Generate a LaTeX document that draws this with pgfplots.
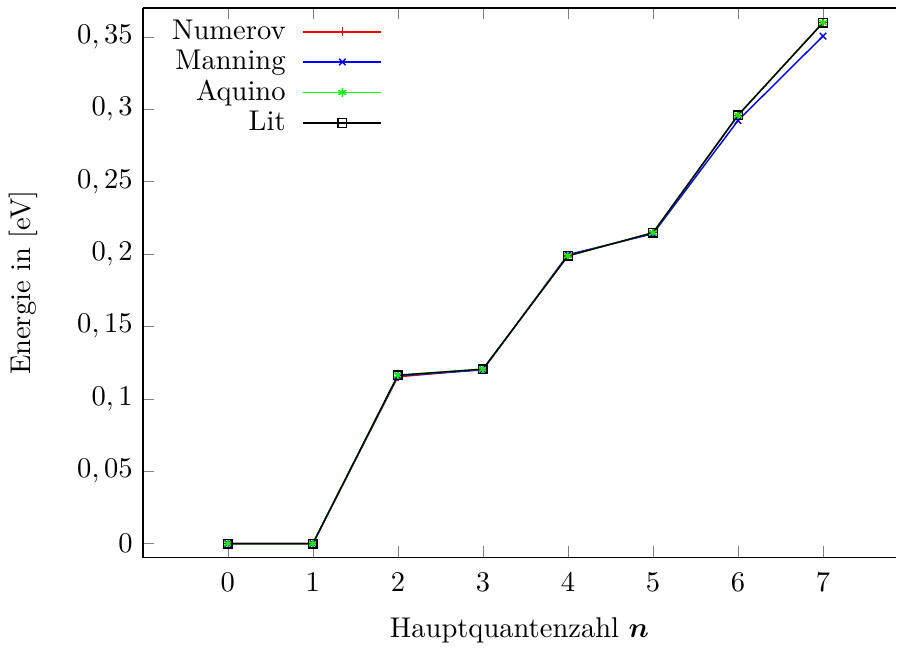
\documentclass[border=0pt]{standalone}
\usepackage{amsmath}
\usepackage{pgfplots}
\pgfplotsset{compat=1.18}
\pgfplotstableread{
n  num     man     aqu     lit
0  0.0000  0.0000  0.0000  0.0000
1  0.0000  0.0000  0.0000  0.0000
2  0.1152  0.1158  0.1163  0.1163
3  0.1203  0.1200  0.1205  0.1205
4  0.1988  0.1996  0.1988  0.1988
5  0.2147  0.2140  0.2147  0.2147
6  0.2959  0.2922  0.2959  0.2959
7  0.3599  0.3506  0.3599  0.3599
}\data
\begin{document}
\begin{tikzpicture}
\begin{axis}[
  scale only axis,
  width=264pt, height=192.6pt,
  xmin=-1, xmax=7.86,
  ymin=-0.0097, ymax=0.37,
  xtick={0,1,2,3,4,5,6,7},
  ytick={0,0.05,0.1,0.15,0.2,0.25,0.3,0.35},
  yticklabels={{$0$},{$0,05$},{$0,1$},{$0,15$},{$0,2$},{$0,25$},{$0,3$},{$0,35$}},
  xticklabel style={yshift=-2pt},
  axis x line*=box,
  axis y line*=left,
  xtick pos=both,
  tick align=inside,
  major tick length=4pt,
  axis line style={line width=0.6pt},
  clip=false,
  xlabel={Hauptquantenzahl $\boldsymbol{n}$},
  ylabel={Energie in [eV]},
  every axis x label/.style={at={(axis description cs:0.5,-0.133)},anchor=center},
  every axis y label/.style={at={(axis description cs:-0.158,0.5)},rotate=90,anchor=center},
  legend plot pos=right,
  legend cell align=right,
  legend style={draw=none, fill=none, at={(axis description cs:0.0193,1.0)}, anchor=north west,
    row sep=-1.8pt, font=\normalsize},
  legend image code/.code={\path (0cm,0cm) (1.10cm,0cm);\draw[mark repeat=2,mark phase=2,#1] plot coordinates {(0.14cm,0cm)(0.62cm,0cm)(1.10cm,0cm)};},
  every axis plot/.append style={line width=0.5pt, mark size=1.6pt},
]
\addplot[red, mark=+] table[x=n,y=num] {\data};
\addlegendentry{Numerov}
\addplot[blue, mark=x] table[x=n,y=man] {\data};
\addlegendentry{Manning}
\addplot[green, mark=asterisk] table[x=n,y=aqu] {\data};
\addlegendentry{Aquino}
\addplot[black, mark=square, mark size=1.5pt] table[x=n,y=lit] {\data};
\addlegendentry{Lit}
\end{axis}
\path ([yshift=2.8pt]current axis.north);
\end{tikzpicture}
\end{document}
